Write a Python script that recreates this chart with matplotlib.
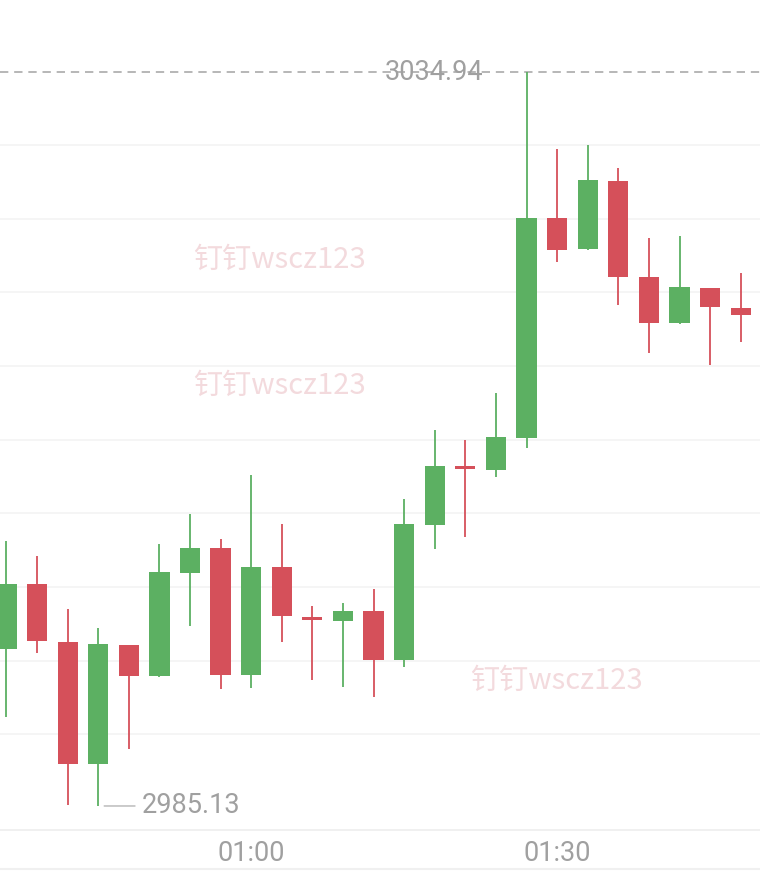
import numpy as np
import matplotlib.pyplot as plt
from matplotlib.lines import Line2D

# 3-minute candles
times = ['00:36', '00:39', '00:42', '00:45', '00:48', '00:51', '00:54', '00:57',
         '01:00', '01:03', '01:06', '01:09', '01:12', '01:15', '01:18', '01:21',
         '01:24', '01:27', '01:30', '01:33', '01:36', '01:39', '01:42', '01:45', '01:48']
opens = [2995.78, 3000.20, 2996.26, 2987.98, 2996.06, 2993.95, 3000.94, 3002.64,
         2994.02, 3001.35, 2997.96, 2997.68, 2998.36, 2995.04, 3004.20, 3008.13,
         3007.93, 3010.10, 3025.03, 3022.93, 3027.54, 3021.03, 3017.91, 3020.28, 3018.92]
highs = [3003.11, 3002.09, 2998.50, 2997.21, 2996.06, 3002.91, 3004.95, 3003.25,
         3007.59, 3004.27, 2998.70, 2998.91, 2999.86, 3005.96, 3010.65, 3009.97,
         3013.16, 3034.94, 3029.71, 3029.99, 3028.43, 3023.68, 3023.81, 3020.28, 3021.30]
lows = [2991.17, 2995.51, 2985.20, 2985.13, 2989.00, 2993.90, 2997.35, 2993.07,
        2993.14, 2996.26, 2993.68, 2993.21, 2992.53, 2994.56, 3002.57, 3003.38,
        3007.46, 3009.42, 3022.05, 3022.85, 3019.13, 3015.87, 3017.85, 3015.06, 3016.62]
closes = [3000.20, 2996.33, 2987.98, 2996.12, 2993.95, 3001.01, 3002.64, 2994.02,
          3001.35, 2998.02, 2997.75, 2998.36, 2995.04, 3004.27, 3008.20, 3008.00,
          3010.17, 3025.03, 3022.86, 3027.61, 3021.03, 3017.91, 3020.35, 3018.99, 3018.45]
shown_times = ['01:00', '01:30']
watermark = '钉钉wscz123'

UP = '#5cb062'
DOWN = '#d5505a'
LABEL = '#a0a0a0'

fig = plt.figure(figsize=(7.6, 8.76), dpi=100)
ax = fig.add_axes([0, 46 / 876, 1, 830 / 876])

x = np.arange(len(times))
o = np.array(opens)
h = np.array(highs)
l = np.array(lows)
c = np.array(closes)
colors = np.where(c >= o, UP, DOWN)

ax.vlines(x, l, h, colors=colors, lw=1.3, zorder=2)
body = np.maximum(np.abs(c - o), 0.18)
ax.bar(x, body, bottom=np.minimum(o, c), width=0.66, color=colors, zorder=3)

ax.set_xlim(-0.21, 24.63)
ax.set_ylim(2983.50, 3039.83)

# faint horizontal grid, no y labels
ax.set_yticks(np.arange(2990, 3031, 5))
ax.yaxis.grid(True, color='#f4f4f4', lw=1.2)
ax.set_axisbelow(True)
ax.tick_params(axis='y', left=False, labelleft=False)

ax.set_xticks([times.index(t) for t in shown_times])
ax.set_xticklabels(shown_times, fontsize=19.5, color=LABEL, family='Roboto')
ax.tick_params(axis='x', length=0, pad=7.5)

for s in ['top', 'left', 'right']:
    ax.spines[s].set_visible(False)
ax.spines['bottom'].set_color('#eeeeee')
ax.spines['bottom'].set_linewidth(1.2)

# max / min markers
i_max = int(np.argmax(h))
i_min = int(np.argmin(l))
ax.axhline(h[i_max], color='#aaaaaa', lw=1.2, ls=(0, (5, 3.5)), zorder=1)
ax.annotate(f'{h[i_max]:.2f}', xy=(i_max, h[i_max]), xytext=(-31, 0),
            textcoords='offset points', ha='right', va='center',
            fontsize=19.5, color=LABEL, family='Roboto', zorder=4)
ax.annotate(f'{l[i_min]:.2f}', xy=(i_min, l[i_min]), xytext=(31, 0),
            textcoords='offset points', ha='left', va='center',
            fontsize=19.5, color=LABEL, family='Roboto',
            arrowprops=dict(arrowstyle='-', color='#b5b5b5', lw=1, shrinkA=2.5, shrinkB=4.3))

# watermark
for px, py in [(279, 260), (279, 386), (556, 681)]:
    fig.text(px / 760, 1 - py / 876, watermark, ha='center', va='center', fontsize=21,
             color='#f3dadd', family=['Noto Sans CJK SC', 'DejaVu Sans'], fontweight='light', zorder=0)

fig.add_artist(Line2D([0, 1], [1 - 869 / 876] * 2, color='#f0f0f0', lw=1.5))

fig.savefig('out.png', dpi=100, facecolor='white')
